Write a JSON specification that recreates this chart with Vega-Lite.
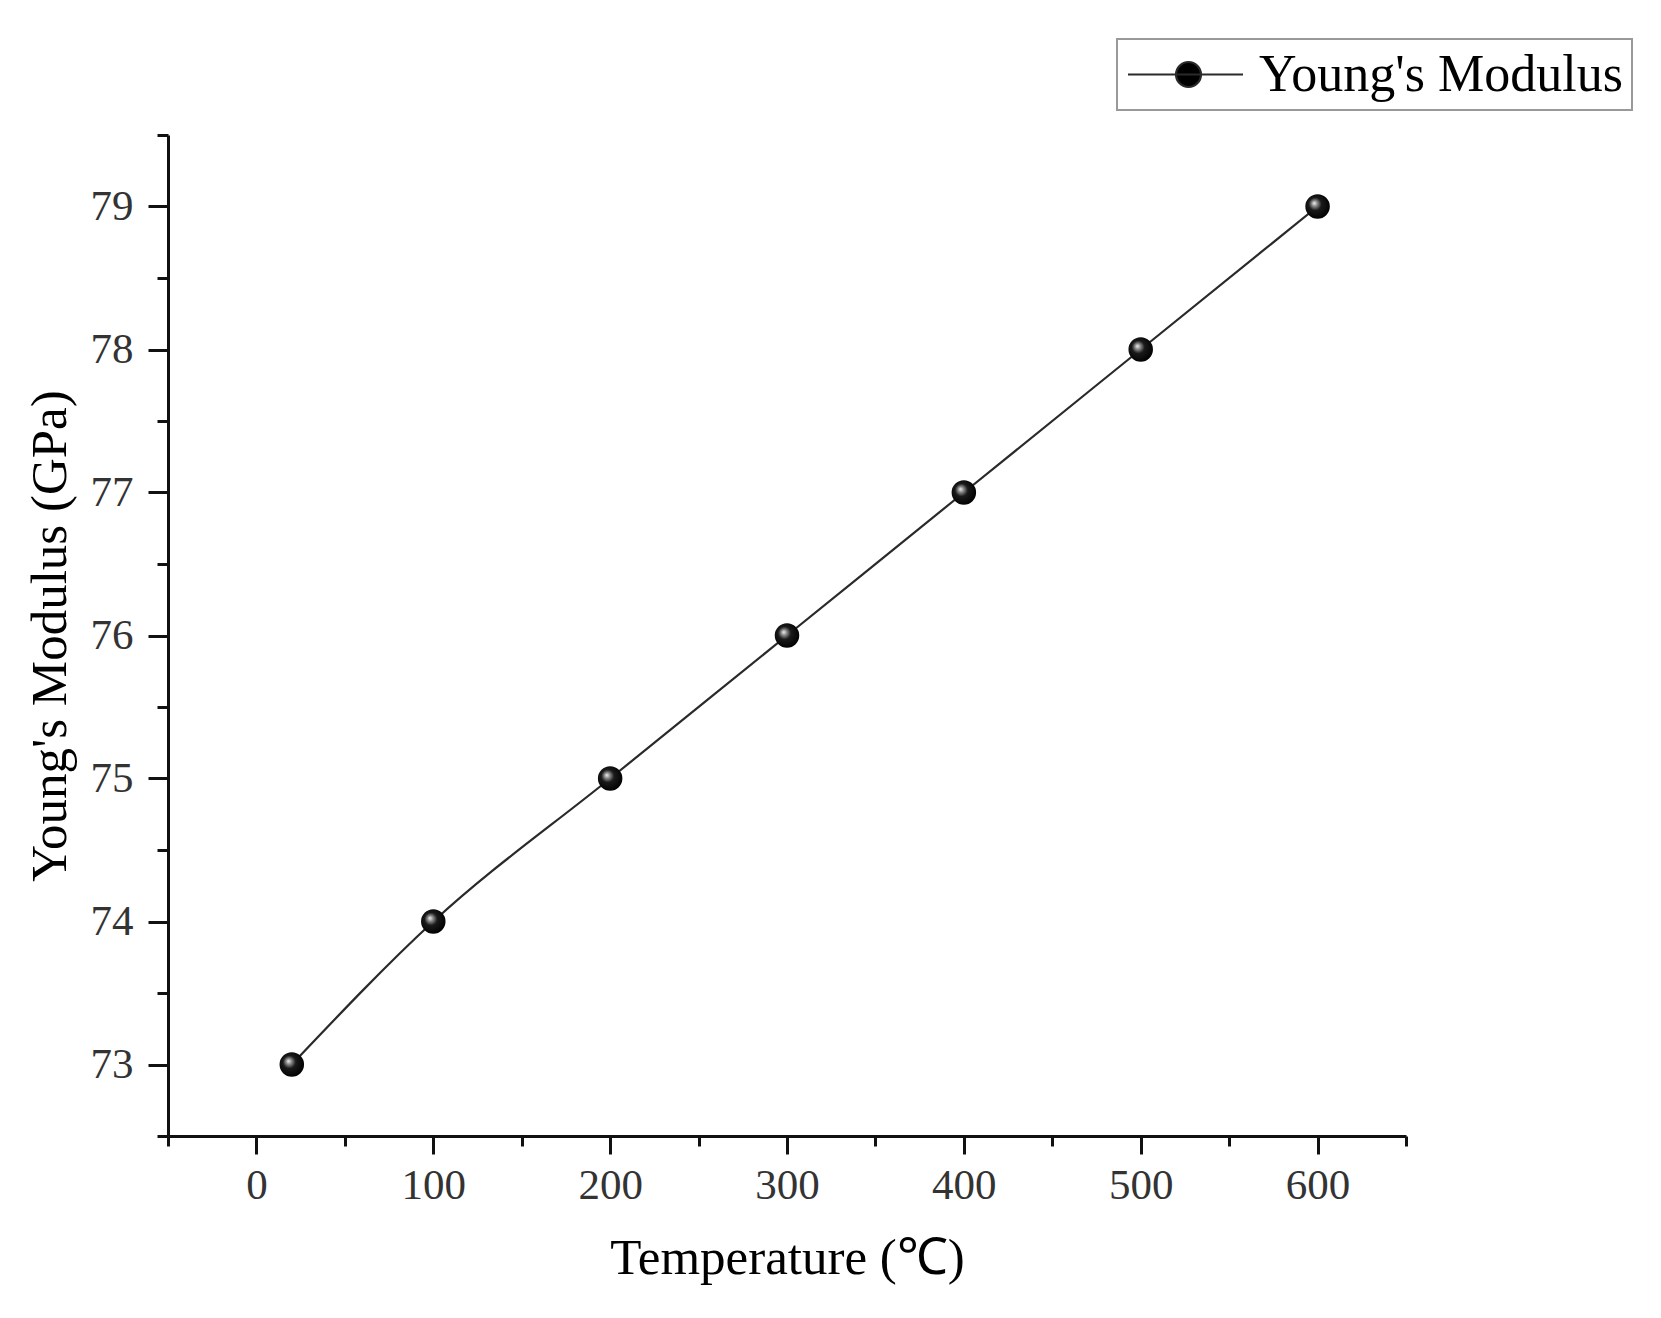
{
  "$schema": "https://vega.github.io/schema/vega-lite/v6.json",
  "width": 1238,
  "height": 1001,
  "autosize": {"type": "none"},
  "padding": {"left": 168, "top": 135, "right": 255, "bottom": 182},
  "background": "white",
  "config": {
    "view": {"stroke": null},
    "font": "Liberation Serif",
    "axis": {
      "grid": false,
      "domainColor": "#111",
      "domainWidth": 3,
      "tickColor": "#111",
      "tickWidth": 3,
      "labelFont": "Liberation Serif",
      "labelFontSize": 43,
      "labelColor": "#333",
      "titleFont": "Liberation Serif",
      "titleFontSize": 51,
      "titleFontWeight": "normal",
      "titleColor": "#000"
    }
  },
  "data": {
    "values": [
      {"temperature": 20, "modulus": 73, "series": "Young's Modulus"},
      {"temperature": 100, "modulus": 74, "series": "Young's Modulus"},
      {"temperature": 200, "modulus": 75, "series": "Young's Modulus"},
      {"temperature": 300, "modulus": 76, "series": "Young's Modulus"},
      {"temperature": 400, "modulus": 77, "series": "Young's Modulus"},
      {"temperature": 500, "modulus": 78, "series": "Young's Modulus"},
      {"temperature": 600, "modulus": 79, "series": "Young's Modulus"}
    ]
  },
  "layer": [
    {
      "mark": {"type": "line", "interpolate": "monotone", "strokeWidth": 2.2},
      "encoding": {
        "x": {
          "field": "temperature",
          "type": "quantitative",
          "scale": {"domain": [-50, 650], "nice": false, "zero": false},
          "axis": {
            "orient": "bottom",
            "values": [0, 100, 200, 300, 400, 500, 600],
            "tickSize": 18,
            "labelPadding": 10,
            "title": "Temperature (℃)",
            "titlePadding": 26
          }
        },
        "y": {
          "field": "modulus",
          "type": "quantitative",
          "scale": {"domain": [72.5, 79.5], "nice": false, "zero": false},
          "axis": {
            "orient": "left",
            "values": [73, 74, 75, 76, 77, 78, 79],
            "tickSize": 20,
            "labelPadding": 15,
            "title": "Young's Modulus (GPa)",
            "titlePadding": 14
          }
        },
        "color": {
          "field": "series",
          "type": "nominal",
          "scale": {"range": ["#2a2a2a"]},
          "legend": {
            "title": null,
            "orient": "none",
            "legendX": 949,
            "legendY": -96,
            "symbolType": "M -2.3 0 L 2.3 0 M -0.38 0 A 0.5 0.5 0 1 1 0.62 0 A 0.5 0.5 0 1 1 -0.38 0 Z",
            "symbolSize": 2500,
            "symbolOffset": 33,
            "symbolStrokeWidth": 2.2,
            "symbolStrokeColor": "#333",
            "symbolFillColor": "#000",
            "symbolOpacity": 1,
            "labelFont": "Liberation Serif",
            "labelFontSize": 52,
            "labelColor": "#000",
            "labelLimit": 0,
            "labelOffset": 47,
            "strokeColor": "#999",
            "padding": 9,
            "fillColor": "white",
            "encode": {"legend": {"update": {"strokeWidth": {"value": 2}}}}
          }
        }
      }
    },
    {
      "mark": {
        "type": "point",
        "filled": true,
        "size": 600,
        "opacity": 1,
        "fill": {
          "gradient": "radial",
          "x1": 0.36, "y1": 0.36, "r1": 0,
          "x2": 0.45, "y2": 0.45, "r2": 0.58,
          "stops": [
            {"offset": 0, "color": "#f2f2f2"},
            {"offset": 0.2, "color": "#8a8a8a"},
            {"offset": 0.45, "color": "#1a1a1a"},
            {"offset": 1, "color": "#000000"}
          ]
        }
      },
      "encoding": {
        "x": {
          "field": "temperature",
          "type": "quantitative",
          "axis": {
            "orient": "bottom",
            "values": [-50, 50, 150, 250, 350, 450, 550, 650],
            "labels": false,
            "domain": false,
            "tickSize": 10,
            "title": null
          }
        },
        "y": {
          "field": "modulus",
          "type": "quantitative",
          "axis": {
            "orient": "left",
            "values": [72.5, 73.5, 74.5, 75.5, 76.5, 77.5, 78.5, 79.5],
            "labels": false,
            "domain": false,
            "tickSize": 11,
            "title": null
          }
        }
      }
    }
  ],
  "resolve": {"axis": {"x": "independent", "y": "independent"}}
}
